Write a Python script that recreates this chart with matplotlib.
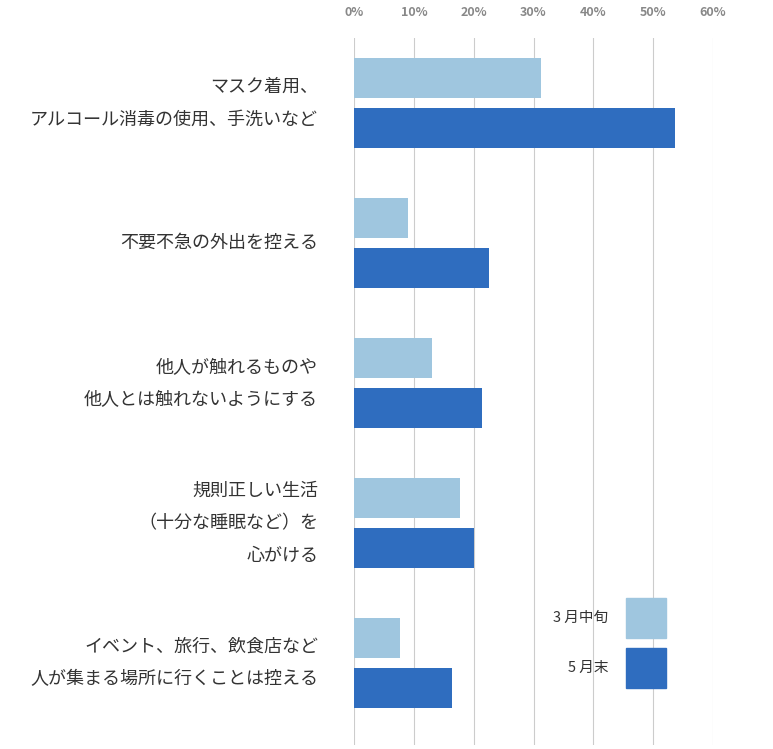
import matplotlib
matplotlib.use("Agg")
import matplotlib.pyplot as plt

plt.rcParams['font.family'] = ['Noto Sans CJK JP', 'DejaVu Sans']

categories = ["マスク着用、\nアルコール消毒の使用、手洗いなど",
              "不要不急の外出を控える",
              "他人が触れるものや\n他人とは触れないようにする",
              "規則正しい生活\n（十分な睡眠など）を\n心がける",
              "イベント、旅行、飲食店など\n人が集まる場所に行くことは控える"]
march = [31.3, 9.0, 13.0, 17.7, 7.7]
may = [53.7, 22.6, 21.4, 20.1, 16.4]
ticks = [0, 10, 20, 30, 40, 50, 60]
series_names = ["3 月中旬", "5 月末"]
c_light, c_dark = "#9fc6df", "#2f6dbf"

fig = plt.figure(figsize=(7.73, 7.49), dpi=100)
ax = fig.add_axes([354/773, 4/749, (713-354)/773, (745-38)/749])
ys = list(range(len(categories)))
h = 0.286
ax.barh([y - 0.179 for y in ys], march, height=h, color=c_light, zorder=2)
ax.barh([y + 0.179 for y in ys], may, height=h, color=c_dark, zorder=2)
ax.set_xlim(0, 60)
ax.set_ylim(4.586, -0.464)
ax.set_xticks(ticks)
ax.set_xticklabels([f"{t}%" for t in ticks], fontsize=9, color="#888888", fontweight='bold')
ax.xaxis.tick_top()
ax.tick_params(axis='x', length=0, pad=14)
ax.set_yticks([])
ax.grid(axis='x', color="#cccccc", linewidth=0.8, zorder=0)
for s in ax.spines.values():
    s.set_visible(False)
for y, lab in zip(ys, categories):
    ax.text(-0.1, y, lab, transform=ax.get_yaxis_transform(), ha='right', va='center',
            fontsize=13, color="#333333", linespacing=2.05)
ax.add_patch(plt.Rectangle((45.4, 3.537), 6.7, 0.286, color=c_light, zorder=3))
ax.add_patch(plt.Rectangle((45.4, 3.893), 6.7, 0.286, color=c_dark, zorder=3))
ax.text(42.5, 3.537 + 0.143, series_names[0], ha='right', va='center', fontsize=10.5, color="#333333")
ax.text(42.5, 3.893 + 0.143, series_names[1], ha='right', va='center', fontsize=10.5, color="#333333")
fig.savefig("out.png", dpi=100)
